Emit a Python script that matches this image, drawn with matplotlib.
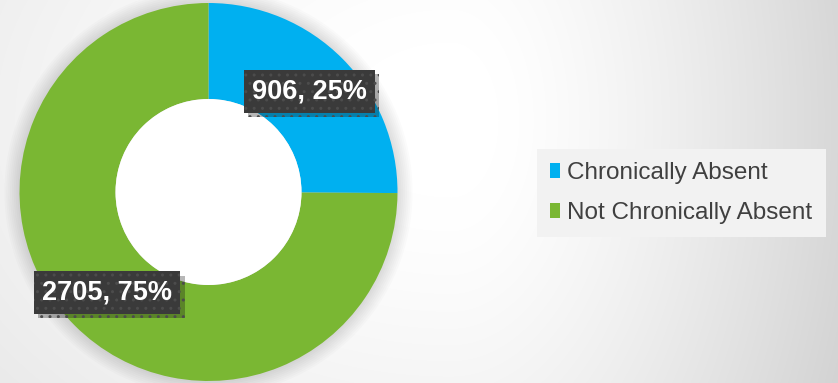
import numpy as np
import matplotlib.pyplot as plt
import matplotlib.patheffects as pe
from matplotlib.patches import Circle

# data
categories = ['Chronically Absent', 'Not Chronically Absent']
counts = [906, 2705]
colors = ['#00b0f0', '#7ab733']

W, H = 838, 383
fig = plt.figure(figsize=(W / 100, H / 100), dpi=100)

# soft grey background gradient (white band in the middle)
bg = fig.add_axes([0, 0, 1, 1], zorder=-10)
xx, yy = np.meshgrid(np.arange(W), np.arange(H))
sx = np.where(xx > 450, 400.0, 900.0)
d = np.sqrt(((xx - 450) / sx) ** 2 + ((yy - 120) / 650) ** 2)
shade = 1 - 0.19 * np.clip(d - 0.12, 0, None) ** 1.3
bg.imshow(np.dstack([shade] * 3), extent=[0, W, 0, H], origin='upper', aspect='auto')
bg.set_axis_off()

# donut axes
cx, cy, r = 208.5, 191, 189
ax = fig.add_axes([(cx - r) / W, (cy - r) / H, 2 * r / W, 2 * r / H])
ax.set_xlim(-1, 1)
ax.set_ylim(-1, 1)
ax.set_axis_off()

# faint shadow round the ring
for i in range(8):
    ax.add_patch(Circle((0, 0), 1.0 + 0.01 * (i + 1), color='k', alpha=0.015, lw=0,
                        zorder=0, clip_on=False))

wedges, _ = ax.pie(counts, colors=colors, startangle=90, counterclock=False,
                   radius=1, wedgeprops=dict(width=0.508, linewidth=0), frame=True)
ax.set_axis_off()
ax.add_patch(Circle((0, 0), 0.492, color='white', lw=0, zorder=2))

total = sum(counts)
for w, n in zip(wedges, counts):
    ang = np.deg2rad((w.theta1 + w.theta2) / 2)
    t = ax.text(0.755 * np.cos(ang), 0.755 * np.sin(ang), f'{n}, {round(100 * n / total)}%',
                ha='center', va='center', color='white', fontsize=19.5, fontweight='bold',
                family='Liberation Sans', zorder=5,
                bbox=dict(boxstyle='square,pad=0.3', fc='#3a3a3a', ec='#4c4c4c', lw=0, hatch='..'))
    t.get_bbox_patch().set_path_effects([pe.SimplePatchShadow(offset=(3, -3), alpha=0.3), pe.Normal()])

leg = fig.legend(wedges, categories, loc='center left', bbox_to_anchor=(537 / W, 190 / H),
                 frameon=True, fancybox=False, facecolor='#f2f2f2', edgecolor='none', framealpha=1,
                 handlelength=0.4, handleheight=0.6, handletextpad=0.3, labelspacing=0.75,
                 borderpad=0.55, borderaxespad=0,
                 prop=dict(family='Liberation Sans', size=17.5))
for txt in leg.get_texts():
    txt.set_color('#404040')

fig.savefig('out.png', dpi=100)
